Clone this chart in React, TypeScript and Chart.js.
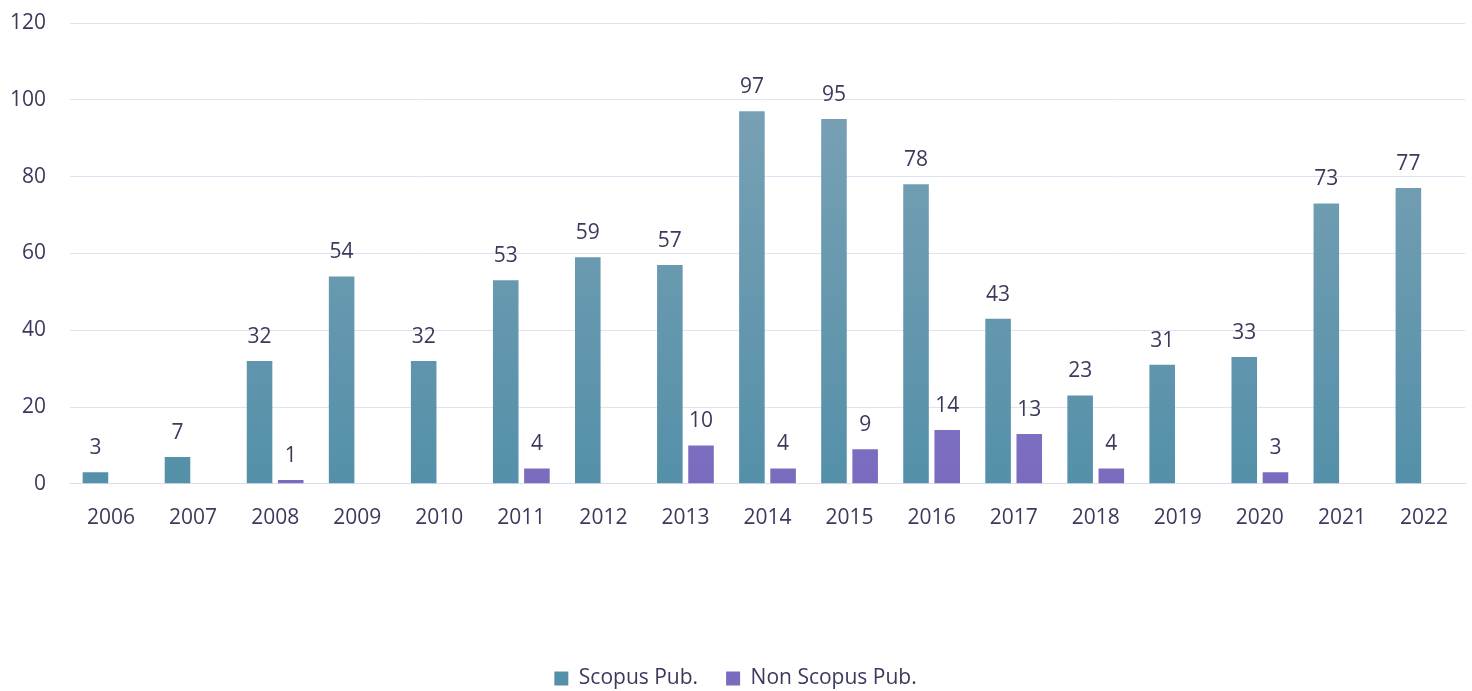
import React, { useEffect, useRef } from "react";
import { Chart, registerables } from "chart.js";

Chart.register(...registerables);

const years = ["2006","2007","2008","2009","2010","2011","2012","2013","2014","2015","2016","2017","2018","2019","2020","2021","2022"];
const scopus = [3,7,32,54,32,53,59,57,97,95,78,43,23,31,33,73,77];
const nonScopus = [0,0,1,0,0,4,0,10,4,9,14,13,4,0,3,0,0];
const yTicks = [0,20,40,60,80,100,120];

const FONT = "'Open Sans', 'Noto Sans', sans-serif";
const TEXT = "#3b3a5c";
const FS = 21;

const valueLabels = {
  id: "valueLabels",
  afterDatasetsDraw(chart: any) {
    const ctx = chart.ctx;
    ctx.save();
    ctx.font = `${FS}px ${FONT}`;
    ctx.fillStyle = TEXT;
    ctx.textAlign = "center";
    ctx.textBaseline = "middle";
    chart.data.datasets.forEach((ds: any, di: number) => {
      const meta = chart.getDatasetMeta(di);
      meta.data.forEach((bar: any, i: number) => {
        const v = ds.data[i];
        if (!v) return;
        ctx.fillText(String(v), bar.x, bar.y - 24);
      });
    });
    ctx.restore();
  },
};

function grad(chart: any, top: string, bottom: string) {
  const { ctx, chartArea } = chart;
  if (!chartArea) return top;
  const g = ctx.createLinearGradient(0, chartArea.top, 0, chartArea.bottom);
  g.addColorStop(0, top);
  g.addColorStop(1, bottom);
  return g;
}

export default function App() {
  const ref = useRef<HTMLCanvasElement>(null);
  useEffect(() => {
    if (!ref.current) return;
    const chart = new Chart(ref.current, {
      type: "bar",
      data: {
        labels: years,
        datasets: [
          {
            label: "Scopus Pub.",
            data: scopus,
            backgroundColor: (c: any) => grad(c.chart, "#80a4b7", "#5490a9"),
            categoryPercentage: 0.76,
            barPercentage: 0.82,
          },
          {
            label: "Non Scopus Pub.",
            data: nonScopus,
            backgroundColor: (c: any) => grad(c.chart, "#9086d0", "#7a6bbf"),
            categoryPercentage: 0.76,
            barPercentage: 0.82,
          },
        ],
      },
      options: {
        animation: false,
        responsive: false,
        maintainAspectRatio: false,
        layout: { padding: { left: 6, right: 7, top: 23, bottom: -8 } },
        plugins: {
          tooltip: { enabled: false },
          legend: {
            position: "bottom",
            labels: {
              font: { family: FONT, size: FS },
              color: TEXT,
              boxWidth: 14,
              boxHeight: 14,
              padding: 28,
            },
          },
        },
        scales: {
          x: {
            grid: { display: false },
            border: { display: true, color: "#d9dcec", width: 1 },
            ticks: { font: { family: FONT, size: FS }, color: TEXT, padding: 14 },
            afterFit: (axis: any) => {
              axis.height += 95;
            },
          },
          y: {
            min: 0,
            max: 120,
            afterBuildTicks: (axis: any) => {
              axis.ticks = yTicks.map((v) => ({ value: v }));
            },
            afterFit: (axis: any) => {
              axis.width = 64;
              axis.paddingTop = 0;
              axis.paddingBottom = 0;
            },
            grid: { color: "#dfe2f0", drawTicks: false },
            border: { display: false },
            ticks: { font: { family: FONT, size: FS }, color: TEXT, padding: 24 },
          },
        },
      },
      plugins: [valueLabels],
    });
    return () => chart.destroy();
  }, []);
  return (
    <div style={{ position: "fixed", left: 0, top: 0, width: 1472, height: 691, background: "#fff" }}>
      <canvas ref={ref} width={1472} height={691} style={{ display: "block" }} />
    </div>
  );
}
